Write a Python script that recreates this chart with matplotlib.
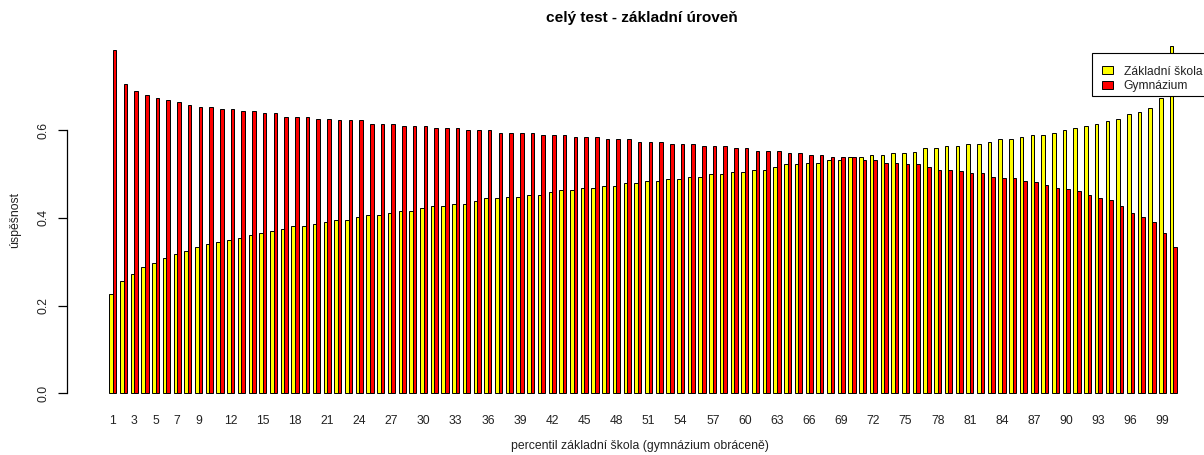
import matplotlib
matplotlib.use("Agg")
import matplotlib.pyplot as plt
from matplotlib.patches import Rectangle
import numpy as np

plt.rcParams['font.family'] = ['Liberation Sans', 'DejaVu Sans']

percentiles = list(range(1, 101))

zakladni_skola = [
    0.226, 0.255, 0.271, 0.287, 0.296, 0.308, 0.317, 0.324, 0.333, 0.340,
    0.345, 0.349, 0.354, 0.361, 0.366, 0.370, 0.374, 0.381, 0.381, 0.386,
    0.390, 0.395, 0.395, 0.402, 0.407, 0.407, 0.412, 0.416, 0.416, 0.423,
    0.428, 0.428, 0.432, 0.432, 0.439, 0.444, 0.444, 0.448, 0.448, 0.453,
    0.453, 0.459, 0.464, 0.464, 0.469, 0.469, 0.473, 0.473, 0.480, 0.480,
    0.485, 0.485, 0.489, 0.489, 0.494, 0.494, 0.500, 0.500, 0.505, 0.505,
    0.510, 0.510, 0.515, 0.522, 0.522, 0.526, 0.526, 0.531, 0.531, 0.538,
    0.538, 0.542, 0.542, 0.547, 0.547, 0.551, 0.559, 0.559, 0.564, 0.564,
    0.568, 0.568, 0.573, 0.580, 0.580, 0.585, 0.589, 0.589, 0.594, 0.601,
    0.605, 0.610, 0.614, 0.621, 0.626, 0.637, 0.642, 0.651, 0.672, 0.791,
]

gymnazium = [
    0.782, 0.704, 0.688, 0.679, 0.672, 0.668, 0.664, 0.658, 0.652, 0.652,
    0.647, 0.647, 0.643, 0.643, 0.638, 0.638, 0.630, 0.630, 0.630, 0.626,
    0.626, 0.622, 0.622, 0.622, 0.614, 0.614, 0.614, 0.610, 0.610, 0.610,
    0.605, 0.605, 0.605, 0.601, 0.601, 0.601, 0.593, 0.593, 0.593, 0.593,
    0.589, 0.589, 0.589, 0.585, 0.585, 0.585, 0.580, 0.580, 0.580, 0.573,
    0.573, 0.573, 0.568, 0.568, 0.568, 0.564, 0.564, 0.564, 0.559, 0.559,
    0.552, 0.552, 0.552, 0.547, 0.547, 0.542, 0.542, 0.538, 0.538, 0.538,
    0.531, 0.531, 0.526, 0.526, 0.522, 0.522, 0.515, 0.510, 0.510, 0.506,
    0.501, 0.501, 0.494, 0.490, 0.490, 0.485, 0.481, 0.474, 0.469, 0.465,
    0.460, 0.453, 0.444, 0.440, 0.428, 0.412, 0.402, 0.391, 0.366, 0.333,
]

shown_labels = [1, 3, 5, 7, 9] + list(range(12, 100, 3))
y_ticks = [0.0, 0.2, 0.4, 0.6]

series_names = ["Základní škola", "Gymnázium"]
title = "celý test - základní úroveň"
x_title = "percentil základní škola (gymnázium obráceně)"
y_title = "úspěšnost"

W, H = 1204, 455
fig = plt.figure(figsize=(W / 100, H / 100), dpi=100)

# plot region in pixels (extends beyond the right edge like the original)
left_px, right_px = 66.6, 1219.7
top_px, bottom_px = 52.8, 406.5
ax = fig.add_axes([left_px / W, 1 - bottom_px / H,
                   (right_px - left_px) / W, (bottom_px - top_px) / H])

n = len(percentiles)
idx = np.arange(n)
x_y = 3 * idx + 1      # left edge of yellow bar
x_r = 3 * idx + 2      # left edge of red bar

b1 = ax.bar(x_y, zakladni_skola, width=1, align='edge', color='#FFFF00',
            edgecolor='black', linewidth=0.7, clip_on=False)
b2 = ax.bar(x_r, gymnazium, width=1, align='edge', color='#FF0000',
            edgecolor='black', linewidth=0.7, clip_on=False)

ax.set_xlim(-10.96, 311.96)
ax.set_ylim(-0.03, 0.776)

for s in ['top', 'right', 'bottom']:
    ax.spines[s].set_visible(False)
ax.spines['left'].set_bounds(0, 0.6)
ax.spines['left'].set_linewidth(0.9)

ax.set_yticks(y_ticks)
ax.set_yticklabels([f"{v:.1f}" for v in y_ticks], rotation=90, va='center')
ax.tick_params(axis='y', length=6.3, width=0.9, pad=6, labelsize=8.7,
               labelcolor='#222222')

tick_pos = [3 * (p - 1) + 2 for p in shown_labels]
ax.set_xticks(tick_pos)
ax.set_xticklabels([str(p) for p in shown_labels])
ax.tick_params(axis='x', length=0, pad=6, labelsize=8.7, labelcolor='#222222')

fig.text(642 / W, 1 - 17.7 / H, title, ha='center', va='center',
         fontsize=11.1, fontweight='bold')
fig.text(639.5 / W, 1 - 446 / H, x_title, ha='center', va='center',
         fontsize=8.85, color='#222222')
fig.text(15 / W, 1 - 220 / H, y_title, ha='center', va='center',
         rotation=90, fontsize=8.85, color='#222222')

# legend box (extends past the right edge, as in the original)
frame = Rectangle((1092.3 / W, 1 - 96 / H), (1240 - 1092.3) / W, (96 - 53.3) / H,
                  transform=fig.transFigure, facecolor='white',
                  edgecolor='black', linewidth=0.8, zorder=4)
fig.patches.append(frame)

leg = fig.legend([b1, b2], series_names, loc='upper left',
                 bbox_to_anchor=(1093.3 / W, 1 - 56.5 / H),
                 bbox_transform=fig.transFigure, fontsize=8.7,
                 frameon=False,
                 handlelength=0.85, handleheight=0.65, handletextpad=0.9,
                 borderpad=0.75, labelspacing=0.22, borderaxespad=0)
leg.set_zorder(5)
for t in leg.get_texts():
    t.set_color('#222222')

fig.savefig("out.png", dpi=100)
